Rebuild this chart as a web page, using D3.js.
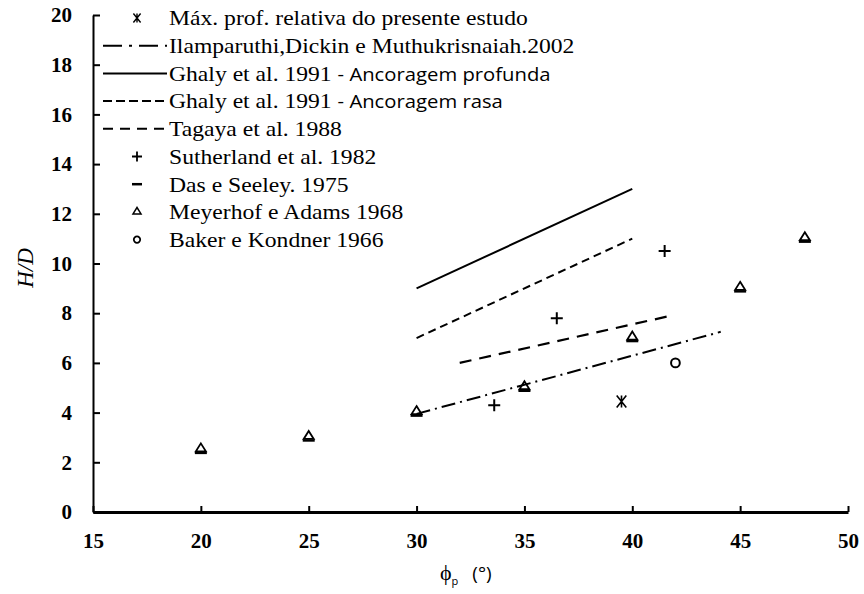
<!DOCTYPE html>
<html>
<head>
<meta charset="utf-8">
<script src="https://cdn.jsdelivr.net/npm/d3@7"></script>
<style>
  html, body { margin: 0; padding: 0; background: #fff; }
  svg { display: block; }
</style>
</head>
<body>
<svg id="chart" width="864" height="594"></svg>
<script>
// Axis ticks
const xTicks = [15, 20, 25, 30, 35, 40, 45, 50];
const yTicks = [0, 2, 4, 6, 8, 10, 12, 14, 16, 18, 20];

// Trend lines: [phi, H/D] end points
const ilamparuthi = [[30, 3.95], [44.1, 7.25]];
const ghalyProfunda = [[30, 9], [40, 13]];
const ghalyRasa = [[30, 7], [40, 11]];
const tagaya = [[32, 6], [41.8, 7.9]];

// Point series: [phi, H/D]
const presenteEstudo = [[39.5, 4.45]];
const sutherland = [[33.6, 4.3], [36.5, 7.8], [41.5, 10.5]];
const dasSeeley = [[20, 2.5], [25, 3], [30, 4], [35, 5], [40, 7], [45, 9], [48, 11]];
const meyerhof = [[20, 2.5], [25, 3], [30, 4], [35, 5], [40, 7], [45, 9], [48, 11]];
const baker = [[42, 6]];

// Legend labels (serif part, optional sans part)
const legendLabels = [
  ["Máx. prof. relativa do presente estudo", ""],
  ["Ilamparuthi,Dickin e Muthukrisnaiah.2002", ""],
  ["Ghaly et al. 1991 ", "- Ancoragem profunda"],
  ["Ghaly et al. 1991 ", "- Ancoragem rasa"],
  ["Tagaya et al. 1988", ""],
  ["Sutherland et al. 1982", ""],
  ["Das e Seeley. 1975", ""],
  ["Meyerhof e Adams 1968", ""],
  ["Baker e Kondner 1966", ""]
];

const svg = d3.select("#chart");
const serif = "Liberation Serif";
const sans = "Open Sans";

const x = d3.scaleLinear().domain([15, 50]).range([93, 848]);
const y = d3.scaleLinear().domain([0, 20]).range([512, 15]);

// Axes
const xAxis = svg.append("g")
  .attr("transform", `translate(0,${y(0)})`)
  .call(d3.axisBottom(x).tickValues(xTicks).tickSize(-6).tickSizeOuter(0).tickPadding(21).tickFormat(d3.format("d")));
xAxis.select(".domain").attr("stroke", "#000").attr("stroke-width", 3);
xAxis.selectAll(".tick line").attr("stroke", "#000").attr("stroke-width", 2);
xAxis.selectAll("text").attr("font-family", serif).attr("font-size", 21).attr("font-weight", "bold").attr("fill", "#000");

const yAxis = svg.append("g")
  .attr("transform", `translate(${x(15)},0)`)
  .call(d3.axisLeft(y).tickValues(yTicks).tickSize(-7).tickSizeOuter(0).tickPadding(21).tickFormat(d3.format("d")));
yAxis.select(".domain").attr("stroke", "#000").attr("stroke-width", 2);
yAxis.selectAll(".tick line").attr("stroke", "#000").attr("stroke-width", 2);
yAxis.selectAll("text").attr("font-family", serif).attr("font-size", 21).attr("font-weight", "bold").attr("fill", "#000");

// Axis titles
svg.append("text")
  .attr("transform", `translate(33,268) rotate(-90)`)
  .attr("text-anchor", "middle")
  .attr("font-family", serif).attr("font-style", "italic").attr("font-size", 23)
  .text("H/D");

const xt = svg.append("text")
  .attr("x", 440).attr("y", 580)
  .attr("font-family", sans).attr("font-size", 22);
xt.append("tspan").text("ϕ");
xt.append("tspan").attr("font-size", 11).attr("dy", 5).text("p");
xt.append("tspan").attr("dy", -5).attr("dx", 14).attr("font-size", 19).text("(°)");

// Line styles
const lineStyles = {
  ilamparuthi: { dash: "14,5,2,5", width: 2 },
  ghalyProfunda: { dash: null, width: 2 },
  ghalyRasa: { dash: "8,5", width: 2 },
  tagaya: { dash: "12,8", width: 2.2 }
};

const line = d3.line().x(d => x(d[0])).y(d => y(d[1]));
[["ilamparuthi", ilamparuthi], ["ghalyProfunda", ghalyProfunda], ["ghalyRasa", ghalyRasa], ["tagaya", tagaya]]
  .forEach(([key, data]) => {
    svg.append("path")
      .datum(data)
      .attr("d", line)
      .attr("fill", "none")
      .attr("stroke", "#000")
      .attr("stroke-width", lineStyles[key].width)
      .attr("stroke-dasharray", lineStyles[key].dash);
  });

// Marker shapes (paths centred on the point)
function starPath(s) {
  return `M0,${-s}V${s}M${-s * 0.8},${-s}L${s * 0.8},${s}M${s * 0.8},${-s}L${-s * 0.8},${s}`;
}
function plusPath(s) {
  return `M${-s},0H${s}M0,${-s}V${s}`;
}
function trianglePath(s) {
  return `M0,${-s * 1.1}L${s},${s * 0.5}H${-s}Z`;
}
function dashPath(s) {
  return `M${-s},0H${s}`;
}

function drawPoints(data, pathStr, opts) {
  svg.append("g").selectAll("path")
    .data(data)
    .join("path")
    .attr("transform", d => `translate(${x(d[0])},${y(d[1]) + (opts.dy || 0)})`)
    .attr("d", pathStr)
    .attr("fill", "none")
    .attr("stroke", "#000")
    .attr("stroke-width", opts.width);
}

drawPoints(meyerhof, trianglePath(5), { width: 1.8, dy: -1 });
drawPoints(dasSeeley, dashPath(6), { width: 2.5, dy: 3 });
drawPoints(sutherland, plusPath(6), { width: 2 });
drawPoints(baker, d3.symbol(d3.symbolCircle, 60)(), { width: 2 });
drawPoints(presenteEstudo, starPath(6), { width: 1.6 });

// Legend
const legend = svg.append("g");
const rowY = i => 18 + i * 27.7;
const textX = 169, markX = 137;

const legendTexts = legendLabels.map((lab, i) => {
  const t = legend.append("text")
    .attr("dy", "0.35em")
    .attr("font-family", serif).attr("font-size", 21).attr("fill", "#000");
  t.append("tspan").text(lab[0]);
  if (lab[1]) t.append("tspan").attr("font-family", sans).attr("font-size", 18).text(lab[1]);
  return t;
});
// slightly widened lettering, fitted so the first label spans 169..528
const stretch = 359 / legendTexts[0].node().getComputedTextLength();
legendTexts.forEach((t, i) => t.attr("transform", `translate(${textX},${rowY(i)}) scale(${stretch},1)`));

// Legend line samples
[["ilamparuthi", 1], ["ghalyProfunda", 2], ["ghalyRasa", 3], ["tagaya", 4]].forEach(([key, i]) => {
  const dash = { ilamparuthi: "19,7,3,7", ghalyProfunda: null, ghalyRasa: "9,4", tagaya: "10,7" }[key];
  legend.append("line")
    .attr("x1", 103).attr("x2", 167)
    .attr("y1", rowY(i)).attr("y2", rowY(i))
    .attr("stroke", "#000").attr("stroke-width", 2)
    .attr("stroke-dasharray", dash);
});

// Legend markers
const legendMarks = [[0, starPath(4.5), 1.4], [5, plusPath(5), 1.8], [6, dashPath(5), 2.5], [7, trianglePath(4), 1.5], [8, d3.symbol(d3.symbolCircle, 32)(), 1.8]];
legendMarks.forEach(([i, p, w]) => {
  legend.append("path")
    .attr("transform", `translate(${markX},${rowY(i)})`)
    .attr("d", p).attr("fill", "none").attr("stroke", "#000").attr("stroke-width", w);
});
</script>
</body>
</html>
